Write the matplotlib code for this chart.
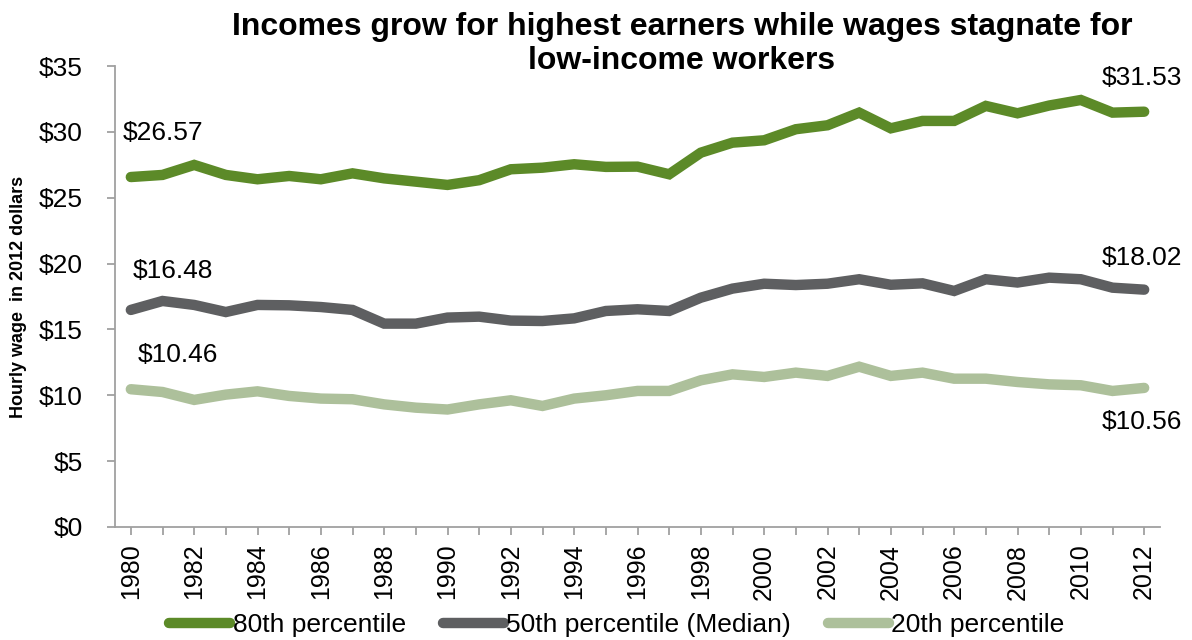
import matplotlib
matplotlib.use("Agg")
import matplotlib.pyplot as plt
from matplotlib.ticker import FuncFormatter, MultipleLocator

plt.rcParams["font.family"] = ["Liberation Sans", "DejaVu Sans"]

years = list(range(1980, 2013))

p80 = [26.57, 26.73, 27.49, 26.73, 26.40, 26.65, 26.40, 26.85, 26.47, 26.22,
       25.97, 26.33, 27.16, 27.28, 27.54, 27.34, 27.36, 26.78, 28.42, 29.18,
       29.36, 30.20, 30.50, 31.46, 30.27, 30.83, 30.83, 31.97, 31.41, 32.00,
       32.42, 31.46, 31.53]

p50 = [16.48, 17.16, 16.86, 16.32, 16.86, 16.83, 16.70, 16.48, 15.44, 15.44,
       15.90, 15.97, 15.67, 15.64, 15.84, 16.40, 16.53, 16.40, 17.41, 18.10,
       18.47, 18.37, 18.47, 18.81, 18.39, 18.50, 17.92, 18.81, 18.56, 18.93,
       18.81, 18.17, 18.02]

p20 = [10.46, 10.25, 9.65, 10.05, 10.30, 9.95, 9.75, 9.70, 9.31, 9.06,
       8.92, 9.31, 9.62, 9.19, 9.75, 10.00, 10.33, 10.33, 11.14, 11.59,
       11.39, 11.72, 11.47, 12.17, 11.47, 11.72, 11.26, 11.26, 11.01, 10.83,
       10.76, 10.33, 10.56]

series_names = ["80th percentile", "50th percentile (Median)", "20th percentile"]
series_colors = ["#5C8A28", "#5E5F61", "#ADC09B"]

title_lines = ["Incomes grow for highest earners while wages stagnate for",
               "low-income workers"]
ylabel = "Hourly wage  in 2012 dollars"

fig = plt.figure(figsize=(11.92, 6.4), dpi=100)
ax = fig.add_axes([115 / 1192, 1 - 527 / 640, (1160 - 115) / 1192, (527 - 66) / 640])

for vals, name, color in zip([p80, p50, p20], series_names, series_colors):
    ax.plot(years, vals, color=color, lw=7.5, solid_capstyle="round",
            solid_joinstyle="miter", label=name)

ax.set_xlim(1979.5, 2012.5)
ax.set_ylim(0, 35)
ax.yaxis.set_major_locator(MultipleLocator(5))
ax.yaxis.set_major_formatter(FuncFormatter(lambda v, _: f"${v:.0f}"))
ax.set_xticks(years)
ax.set_xticklabels([str(y) if (y - 1980) % 2 == 0 else "" for y in years],
                   rotation=90)

for side in ["top", "right"]:
    ax.spines[side].set_visible(False)
for side in ["left", "bottom"]:
    ax.spines[side].set_color("#A0A0A0")
    ax.spines[side].set_linewidth(1.3)
ax.tick_params(axis="both", colors="#A0A0A0", width=1.3, length=6)
ax.tick_params(axis="y", labelsize=19, labelcolor="black", pad=17)
ax.tick_params(axis="x", labelsize=18, labelcolor="black", pad=6)

ax.set_ylabel(ylabel, fontsize=13, fontweight="bold")
ax.yaxis.set_label_coords(-0.084, 0.5)

# two-line title, one text per line
for line, ypix in zip(title_lines, [27, 61]):
    fig.text(682 / 1192, 1 - ypix / 640, line, ha="center", va="center",
             fontsize=23, fontweight="bold")

# value labels at the first and last year of each series
label_specs = [
    (p80, 0, (-8, 44), "left", "center"),
    (p50, 0, (2, 39), "left", "center"),
    (p20, 0, (7, 34), "left", "center"),
    (p80, -1, (-2, 34), "center", "center"),
    (p50, -1, (-2, 32), "center", "center"),
    (p20, -1, (-2, -34), "center", "center"),
]
for vals, idx, off, ha, va in label_specs:
    ax.annotate(f"${vals[idx]:.2f}", xy=(years[idx], vals[idx]), xytext=off,
                textcoords="offset pixels", ha=ha, va=va, fontsize=19)

handles, labels = ax.get_legend_handles_labels()
fig.legend(handles, labels, loc="center", bbox_to_anchor=(617 / 1192, 1 - 625 / 640),
           ncol=3, frameon=False, fontsize=19, handlelength=2.3,
           handletextpad=0.1, columnspacing=1.4, borderaxespad=0)

fig.savefig("out.png", dpi=100)
